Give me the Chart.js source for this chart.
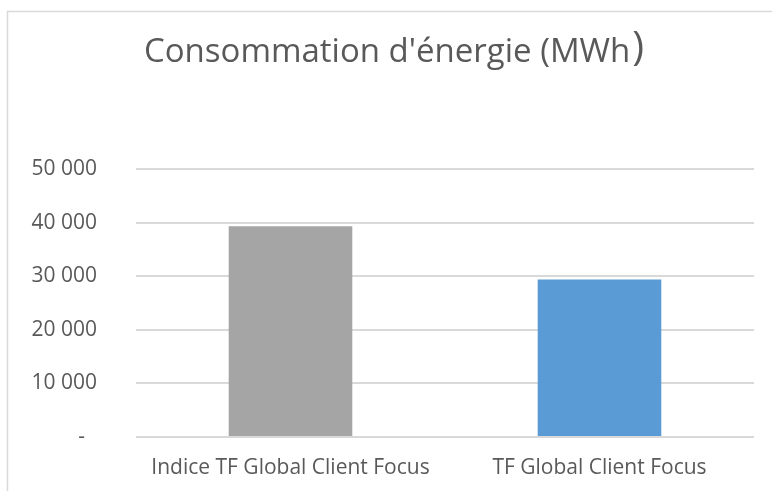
<!DOCTYPE html>
<html>
<head>
<meta charset="utf-8">
<script src="https://cdn.jsdelivr.net/npm/chart.js@4"></script>
<style>
  html, body { margin: 0; padding: 0; background: #fff; }
  #wrap { width: 772px; height: 491px; }
</style>
</head>
<body>
<div id="wrap"><canvas id="myChart" width="772" height="491"></canvas></div>
<script>
// chart data
const titleText = "Consommation d'énergie (MWh";
const titleEnd = ")";
const categories = ["Indice TF Global Client Focus", "TF Global Client Focus"];
const values = [39300, 29400];
const barColors = ["#a5a5a5", "#5b9bd5"];
const yTicks = [0, 10000, 20000, 30000, 40000, 50000];

const textColor = "#595959";
const gridColor = "#d9d9d9";
const fontName = "'Open Sans', sans-serif";

function formatTick(v) {
  if (v === 0) return "-\u2007";
  return String(v).replace(/\B(?=(\d{3})+(?!\d))/g, " ");
}

// frame + title with the oversized closing paren
const framePlugin = {
  id: 'frame',
  beforeDraw(chart) {
    const c = chart.ctx;
    c.save();
    c.strokeStyle = gridColor;
    c.lineWidth = 1.5;
    c.beginPath();
    c.moveTo(7.5, chart.height);
    c.lineTo(7.5, 11.5);
    c.lineTo(chart.width, 11.5);
    c.stroke();

    c.fillStyle = textColor;
    c.textBaseline = 'alphabetic';
    c.font = "33px " + fontName;
    const w1 = c.measureText(titleText).width;
    c.font = "40px " + fontName;
    const w2 = c.measureText(titleEnd).width;
    const x0 = 394 - (w1 + w2 + 2) / 2;
    c.font = "33px " + fontName;
    c.fillText(titleText, x0, 62);
    c.font = "40px " + fontName;
    c.fillText(titleEnd, x0 + w1 + 2, 60);
    c.restore();
  }
};

const ctx = document.getElementById('myChart');
new Chart(ctx, {
  type: 'bar',
  data: {
    labels: categories,
    datasets: [{
      label: titleText + titleEnd,
      data: values,
      backgroundColor: barColors,
      borderWidth: 0,
      barPercentage: 0.4,
      categoryPercentage: 1.0
    }]
  },
  options: {
    responsive: false,
    animation: false,
    layout: { padding: { top: 169, right: 18, bottom: 0, left: 0 } },
    plugins: {
      legend: { display: false },
      title: { display: false },
      tooltip: { enabled: false }
    },
    scales: {
      x: {
        grid: { display: false, drawTicks: false },
        border: { display: false },
        ticks: { color: textColor, font: { family: fontName, size: 21 }, padding: 18, maxRotation: 0 },
        afterFit(scale) { scale.height = 54; }
      },
      y: {
        min: 0,
        max: 50000,
        afterBuildTicks(scale) { scale.ticks = yTicks.map(v => ({ value: v })); },
        grid: { color: gridColor, lineWidth: 2, drawTicks: false },
        border: { display: false },
        ticks: {
          color: textColor,
          font: { family: fontName, size: 21 },
          padding: 39,
          callback: formatTick
        },
        afterFit(scale) { scale.width = 136; }
      }
    }
  },
  plugins: [framePlugin]
});
</script>
</body>
</html>
